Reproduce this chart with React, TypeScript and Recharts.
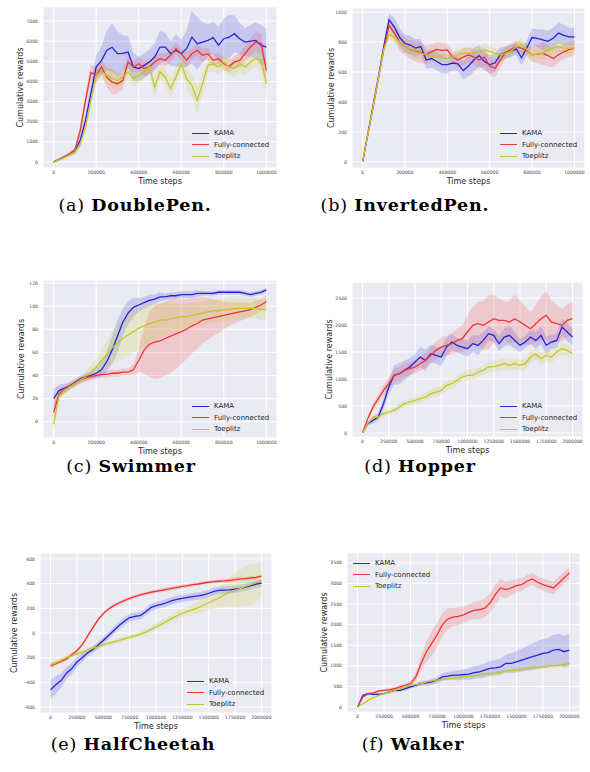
import React from "react";
import { ComposedChart, Line, Area, XAxis, YAxis, CartesianGrid, Legend } from "recharts";

const NAMES = ["KAMA", "Fully-connected", "Toeplitz"];
const COLORS = ["#2525d6", "#f03434", "#c2c62a"];
const BAND_COLORS = ["#3a3ae0", "#f04848", "#c8cc30"];

const STEPS_1M = [
  0, 25000, 50000, 75000, 100000, 125000, 150000, 175000, 200000, 225000, 250000, 275000, 300000, 325000,
  350000, 375000, 400000, 425000, 450000, 475000, 500000, 525000, 550000, 575000, 600000, 625000, 650000,
  675000, 700000, 725000, 750000, 775000, 800000, 825000, 850000, 875000, 900000, 925000, 950000, 975000, 1000000,
];
const STEPS_2M = [
  0, 50000, 100000, 150000, 200000, 250000, 300000, 350000, 400000, 450000, 500000, 550000, 600000, 650000,
  700000, 750000, 800000, 850000, 900000, 950000, 1000000, 1050000, 1100000, 1150000, 1200000, 1250000, 1300000,
  1350000, 1400000, 1450000, 1500000, 1550000, 1600000, 1650000, 1700000, 1750000, 1800000, 1850000, 1900000,
  1950000, 2000000,
];
const TICKS_1M = [0, 200000, 400000, 600000, 800000, 1000000];
const TICKS_2M = [0, 250000, 500000, 750000, 1000000, 1250000, 1500000, 1750000, 2000000];

// (a) DoublePen
const DP_K = [0, 120, 250, 380, 520, 1075, 2070, 3390, 4720, 5050, 5550, 5700, 5380, 5400, 5460, 4720, 4640, 4800, 4970, 5215, 5710, 5710, 5380, 5550, 5380, 5630, 6200, 5880, 5960, 6040, 6175, 5800, 6125, 6200, 6375, 6125, 5960, 6000, 6040, 5800, 5710];
const DP_F = [0, 120, 250, 400, 600, 1570, 3060, 4450, 4300, 4720, 4200, 3970, 3890, 4050, 4970, 4720, 4880, 4640, 4720, 4970, 5130, 5050, 5300, 5630, 5380, 5050, 5380, 5550, 5300, 5380, 5050, 5130, 4880, 4750, 4970, 5050, 5380, 5710, 5960, 5900, 4550];
const DP_T = [0, 100, 220, 350, 500, 900, 1740, 3060, 4300, 4500, 4300, 4140, 4050, 4220, 4470, 4140, 4300, 4470, 4720, 3720, 4470, 4220, 3640, 4220, 4880, 4140, 3810, 3060, 3890, 4800, 4880, 4720, 4970, 4720, 4640, 4880, 4720, 4970, 5130, 5050, 3890];
const DP_K_SD = [50, 60, 80, 100, 150, 300, 400, 500, 600, 700, 1000, 1200, 1100, 900, 800, 700, 600, 600, 600, 700, 800, 700, 600, 800, 700, 900, 1300, 1300, 1000, 800, 800, 900, 1000, 1100, 900, 800, 700, 800, 900, 1000, 900];
const DP_F_SD = [40, 50, 60, 80, 120, 250, 350, 400, 400, 350, 500, 600, 500, 400, 350, 300, 350, 400, 350, 300, 300, 300, 350, 300, 300, 350, 300, 300, 350, 300, 300, 300, 300, 300, 300, 350, 400, 450, 500, 500, 600];
const DP_T_SD = [40, 50, 60, 80, 100, 200, 300, 400, 400, 350, 400, 400, 350, 400, 400, 400, 400, 350, 350, 500, 400, 400, 500, 500, 400, 500, 600, 700, 500, 400, 350, 400, 400, 400, 400, 400, 400, 400, 400, 500, 700];

// (b) InvertedPen
const IP_K = [0, 190, 380, 570, 770, 950, 900, 830, 790, 780, 760, 770, 680, 690, 670, 650, 650, 660, 655, 610, 640, 680, 710, 670, 650, 660, 715, 730, 740, 755, 695, 760, 830, 825, 815, 805, 825, 860, 845, 835, 835];
const IP_F = [0, 185, 370, 560, 750, 910, 860, 800, 770, 750, 740, 730, 715, 735, 750, 745, 748, 700, 680, 700, 715, 700, 680, 700, 640, 625, 680, 730, 750, 770, 760, 745, 715, 720, 725, 710, 690, 715, 735, 750, 760];
const IP_T = [0, 185, 370, 560, 750, 850, 830, 800, 770, 750, 735, 725, 715, 705, 700, 695, 690, 700, 715, 725, 725, 730, 737, 748, 737, 725, 714, 725, 737, 770, 780, 750, 715, 720, 725, 748, 760, 770, 760, 760, 760];
const IP_K_SD = [0, 10, 15, 20, 25, 40, 60, 60, 60, 60, 60, 50, 60, 60, 60, 60, 60, 50, 50, 60, 70, 80, 70, 60, 60, 60, 50, 40, 40, 40, 50, 50, 60, 60, 70, 70, 70, 70, 70, 60, 60];
const IP_F_SD = [0, 10, 15, 20, 25, 40, 50, 60, 60, 60, 70, 70, 60, 50, 50, 50, 40, 40, 50, 60, 50, 50, 60, 60, 60, 60, 50, 40, 40, 40, 40, 40, 50, 60, 80, 70, 60, 50, 50, 50, 50];
const IP_T_SD = [0, 10, 15, 20, 25, 30, 35, 40, 40, 40, 40, 40, 40, 35, 35, 35, 35, 35, 35, 35, 35, 35, 35, 35, 35, 35, 35, 35, 35, 35, 40, 40, 40, 40, 40, 40, 40, 40, 40, 40, 40];

// (c) Swimmer
const SW_K = [20, 27, 29, 31, 34, 37, 39, 40, 42, 45, 52, 62, 74, 86, 94, 99, 101, 103, 105, 106, 108, 108, 109, 109, 110, 110, 110, 111, 111, 111, 111, 112, 112, 112, 112, 112, 111, 110, 111, 112, 114];
const SW_F = [8, 24, 28, 31, 33, 36, 38, 39, 40, 41, 41, 42, 42, 43, 43, 45, 53, 62, 67, 69, 70, 72, 74, 76, 78, 80, 83, 85, 88, 89, 90, 91, 92, 93, 94, 95, 96, 97, 99, 101, 104];
const SW_T = [-2, 22, 27, 30, 33, 36, 39, 43, 47, 53, 58, 64, 68, 72, 75, 78, 81, 83, 85, 86, 88, 88, 89, 90, 91, 91, 92, 93, 94, 95, 96, 96, 97, 97, 98, 98, 98, 98, 98, 97, 97];
const SW_K_SD = [8, 5, 4, 3, 3, 3, 3, 3, 4, 6, 9, 12, 14, 12, 10, 8, 6, 5, 5, 4, 4, 3, 3, 3, 3, 3, 3, 3, 2, 2, 2, 2, 2, 2, 2, 2, 2, 2, 2, 2, 2];
const SW_F_SD = [6, 4, 3, 3, 3, 3, 3, 3, 3, 3, 3, 3, 3, 3, 3, 5, 10, 20, 28, 32, 32, 32, 32, 30, 28, 26, 24, 22, 20, 18, 16, 14, 12, 10, 9, 8, 7, 6, 6, 5, 5];
const SW_T_SD = [6, 4, 3, 3, 3, 3, 4, 6, 8, 10, 12, 14, 16, 17, 18, 18, 18, 18, 17, 16, 15, 14, 13, 12, 12, 11, 11, 10, 10, 10, 10, 10, 10, 10, 9, 9, 9, 9, 9, 9, 9];

// (d) Hopper
const HP_K = [0, 173, 234, 296, 543, 852, 1067, 1098, 1160, 1222, 1314, 1407, 1345, 1468, 1438, 1407, 1592, 1684, 1622, 1592, 1561, 1653, 1622, 1715, 1839, 1808, 1653, 1777, 1808, 1715, 1622, 1684, 1777, 1715, 1808, 1622, 1684, 1715, 1962, 1870, 1777];
const HP_F = [0, 265, 481, 636, 790, 913, 1067, 1098, 1160, 1191, 1222, 1283, 1345, 1438, 1530, 1592, 1622, 1653, 1715, 1746, 1870, 1993, 2024, 1993, 2055, 2116, 2085, 2085, 2055, 2116, 2055, 1993, 1931, 2024, 2116, 2178, 2055, 2024, 1993, 2085, 2116];
const HP_T = [0, 173, 296, 296, 358, 389, 420, 481, 543, 574, 605, 636, 666, 728, 759, 790, 882, 913, 975, 1037, 1067, 1067, 1129, 1160, 1222, 1234, 1253, 1283, 1253, 1283, 1253, 1283, 1407, 1468, 1376, 1438, 1407, 1500, 1561, 1530, 1468];
const HP_K_SD = [0, 30, 60, 80, 110, 140, 180, 200, 180, 160, 150, 180, 200, 160, 150, 170, 160, 150, 130, 140, 150, 160, 180, 150, 130, 120, 140, 160, 180, 150, 120, 110, 130, 150, 170, 160, 140, 130, 150, 170, 160];
const HP_F_SD = [0, 40, 60, 80, 100, 110, 120, 130, 130, 120, 120, 130, 140, 150, 160, 170, 180, 200, 220, 250, 300, 350, 400, 450, 500, 450, 400, 350, 400, 450, 400, 350, 300, 350, 400, 450, 400, 350, 300, 300, 300];
const HP_T_SD = [0, 30, 40, 50, 50, 50, 50, 60, 60, 60, 70, 70, 70, 70, 80, 80, 80, 80, 80, 80, 90, 90, 90, 90, 100, 100, 100, 100, 100, 100, 100, 110, 110, 110, 110, 110, 110, 110, 110, 110, 110];

// (e) HalfCheetah
const HC_K = [-460, -420, -385, -325, -290, -235, -200, -162, -135, -100, -60, -20, 20, 60, 95, 125, 135, 140, 170, 205, 222, 232, 245, 262, 272, 280, 288, 294, 300, 308, 322, 338, 345, 348, 350, 355, 362, 372, 384, 395, 405];
const HC_F = [-265, -249, -230, -211, -176, -143, -95, -27, 41, 108, 157, 195, 222, 243, 262, 281, 295, 308, 319, 330, 338, 346, 354, 362, 370, 378, 384, 392, 397, 405, 411, 416, 419, 422, 427, 432, 438, 440, 446, 451, 460];
const HC_T = [-257, -240, -222, -200, -185, -170, -155, -140, -125, -110, -97, -85, -72, -60, -48, -36, -24, -10, 5, 30, 50, 70, 95, 118, 140, 160, 175, 190, 205, 225, 245, 265, 285, 310, 330, 345, 362, 378, 392, 410, 430];
const HC_K_SD = [80, 70, 60, 50, 45, 40, 35, 30, 30, 30, 30, 30, 30, 30, 30, 30, 30, 30, 30, 30, 30, 30, 30, 30, 30, 30, 30, 30, 30, 30, 30, 30, 30, 30, 30, 30, 30, 30, 30, 30, 30];
const HC_F_SD = [20, 18, 16, 15, 15, 15, 15, 15, 15, 15, 15, 15, 15, 15, 15, 15, 15, 15, 15, 15, 15, 15, 15, 15, 15, 15, 15, 15, 15, 15, 15, 15, 15, 15, 15, 15, 15, 15, 15, 15, 15];
const HC_T_SD = [20, 20, 20, 20, 20, 20, 20, 20, 20, 20, 20, 20, 20, 20, 20, 20, 20, 20, 25, 25, 25, 30, 30, 30, 35, 35, 40, 40, 45, 50, 60, 70, 80, 100, 120, 140, 150, 160, 170, 150, 140];

// (f) Walker
const WK_K = [0, 285, 326, 310, 310, 326, 366, 407, 407, 448, 488, 529, 570, 586, 610, 651, 733, 749, 773, 773, 790, 798, 838, 855, 895, 936, 952, 977, 1058, 1058, 1099, 1140, 1180, 1221, 1262, 1302, 1319, 1384, 1400, 1343, 1384];
const WK_F = [0, 244, 326, 342, 391, 407, 423, 448, 488, 529, 570, 733, 1058, 1343, 1547, 1750, 1994, 2133, 2182, 2198, 2238, 2295, 2344, 2361, 2401, 2523, 2727, 2890, 2849, 2890, 2947, 2971, 3053, 3109, 3028, 2971, 2930, 2890, 3012, 3134, 3256];
const WK_T = [0, 81, 163, 228, 285, 326, 366, 407, 448, 488, 529, 545, 570, 610, 635, 651, 667, 684, 700, 716, 733, 749, 765, 781, 798, 814, 830, 847, 871, 887, 904, 920, 936, 952, 969, 977, 993, 1001, 1010, 1026, 1058];
const WK_K_SD = [0, 20, 30, 30, 30, 30, 40, 40, 40, 50, 50, 50, 60, 60, 70, 80, 90, 100, 110, 120, 130, 140, 150, 160, 170, 180, 190, 200, 220, 240, 260, 280, 300, 320, 340, 350, 360, 370, 380, 390, 400];
const WK_F_SD = [0, 20, 30, 30, 30, 30, 40, 40, 50, 50, 60, 100, 180, 250, 300, 300, 280, 250, 230, 220, 200, 200, 210, 220, 230, 240, 250, 220, 200, 180, 160, 150, 150, 150, 150, 150, 150, 150, 150, 150, 150];
const WK_T_SD = [0, 20, 20, 20, 20, 20, 25, 25, 25, 25, 30, 30, 30, 30, 30, 30, 35, 35, 35, 35, 35, 40, 40, 40, 40, 40, 40, 45, 45, 45, 45, 45, 50, 50, 50, 50, 50, 50, 55, 55, 55];

const PANELS = [
  {
    id: "a", caption: "DoublePen.", capX: 135, capY: 205,
    plot: { x: 43, y: 7, w: 234, h: 161 }, steps: STEPS_1M, xTicks: TICKS_1M, xDomain: [-50000, 1050000],
    yTicks: [0, 1000, 2000, 3000, 4000, 5000, 6000, 7000], yDomain: [-300, 7700], yLabelX: 20,
    legend: { x: 192, y: 133 }, series: [DP_K, DP_F, DP_T], spreads: [DP_K_SD, DP_F_SD, DP_T_SD],
  },
  {
    id: "b", caption: "InvertedPen.", capX: 405, capY: 205,
    plot: { x: 352, y: 8, w: 233, h: 160 }, steps: STEPS_1M, xTicks: TICKS_1M, xDomain: [-50000, 1050000],
    yTicks: [0, 200, 400, 600, 800, 1000], yDomain: [-40, 1027], yLabelX: 331,
    legend: { x: 500, y: 133 }, series: [IP_K, IP_F, IP_T], spreads: [IP_K_SD, IP_F_SD, IP_T_SD],
  },
  {
    id: "c", caption: "Swimmer", capX: 131, capY: 466,
    plot: { x: 43, y: 280, w: 234, h: 158 }, steps: STEPS_1M, xTicks: TICKS_1M, xDomain: [-50000, 1050000],
    yTicks: [0, 20, 40, 60, 80, 100, 120], yDomain: [-14, 122.6], yLabelX: 21,
    legend: { x: 192, y: 406 }, series: [SW_K, SW_F, SW_T], spreads: [SW_K_SD, SW_F_SD, SW_T_SD],
  },
  {
    id: "d", caption: "Hopper", capX: 420, capY: 466,
    plot: { x: 352, y: 282, w: 231, h: 155 }, steps: STEPS_2M, xTicks: TICKS_2M, xDomain: [-100000, 2100000],
    yTicks: [0, 500, 1000, 1500, 2000, 2500], yDomain: [-74, 2796], yLabelX: 329,
    legend: { x: 500, y: 406 }, series: [HP_K, HP_F, HP_T], spreads: [HP_K_SD, HP_F_SD, HP_T_SD],
  },
  {
    id: "e", caption: "HalfCheetah", capX: 133, capY: 744,
    plot: { x: 40, y: 553, w: 232, h: 160 }, steps: STEPS_2M, xTicks: TICKS_2M, xDomain: [-100000, 2100000],
    yTicks: [-600, -400, -200, 0, 200, 400, 600], yDomain: [-648, 648], yLabelX: 14,
    legend: { x: 187, y: 681 }, series: [HC_K, HC_F, HC_T], spreads: [HC_K_SD, HC_F_SD, HC_T_SD],
  },
  {
    id: "f", caption: "Walker", capX: 413, capY: 744,
    plot: { x: 347, y: 553, w: 233, h: 159 }, steps: STEPS_2M, xTicks: TICKS_2M, xDomain: [-100000, 2100000],
    yTicks: [0, 500, 1000, 1500, 2000, 2500, 3000, 3500], yDomain: [-120, 3738], yLabelX: 324,
    legend: { x: 353, y: 563 }, series: [WK_K, WK_F, WK_T], spreads: [WK_K_SD, WK_F_SD, WK_T_SD],
  },
];

const YW = 50;
const MT = 10;
const MR = 10;
const XH = 30;
const KEYS = ["k", "f", "t"];

function LegendBox() {
  return (
    <div style={{ fontFamily: "DejaVu Sans", fontSize: 7, color: "#262626" }}>
      {NAMES.map((n, i) => (
        <div key={n} style={{ display: "flex", alignItems: "center", height: 11.5, whiteSpace: "nowrap" }}>
          <span style={{ display: "inline-block", width: 17, borderTop: `1.6px solid ${COLORS[i]}`, marginRight: 5 }} />
          <span>{n}</span>
        </div>
      ))}
    </div>
  );
}

function Panel({ cfg }: { cfg: any }) {
  const { plot, steps, series, spreads } = cfg;
  const left = plot.x - YW;
  const top = plot.y - MT;
  const rows = steps.map((s: number, i: number) => {
    const row: any = { x: s };
    KEYS.forEach((key, j) => {
      row[key] = series[j][i];
      row[key + "b"] = [series[j][i] - spreads[j][i], series[j][i] + spreads[j][i]];
    });
    return row;
  });
  const tick = { fontSize: 4.6, fill: "#4a4a4a", fontFamily: "DejaVu Sans" };
  const midY = MT + plot.h / 2;
  const lx = cfg.yLabelX - left;

  return (
    <div style={{ position: "absolute", left, top }}>
      <ComposedChart
        width={YW + plot.w + MR}
        height={MT + plot.h + XH}
        data={rows}
        margin={{ top: MT, right: MR, bottom: 0, left: 0 }}
        style={{ fontFamily: "DejaVu Sans" }}
      >
        <CartesianGrid fill="#eaeaf2" stroke="#ffffff" strokeWidth={1} />
        <XAxis
          dataKey="x"
          type="number"
          domain={cfg.xDomain}
          ticks={cfg.xTicks}
          interval={0}
          allowDataOverflow
          height={XH}
          tickSize={0}
          tickMargin={3}
          axisLine={false}
          tick={tick}
          tickFormatter={(v: number) => String(v)}
          label={() => (
            <text x={YW + plot.w / 2} y={MT + plot.h + 16} textAnchor="middle" fontSize={8} fill="#262626">
              Time steps
            </text>
          )}
        />
        <YAxis
          type="number"
          domain={cfg.yDomain}
          ticks={cfg.yTicks}
          interval={0}
          allowDataOverflow
          width={YW}
          tickSize={0}
          tickMargin={5}
          axisLine={false}
          tick={tick}
          tickFormatter={(v: number) => String(v)}
          label={() => (
            <text
              x={lx}
              y={midY}
              transform={`rotate(-90 ${lx} ${midY})`}
              textAnchor="middle"
              dominantBaseline="central"
              fontSize={8}
              fill="#262626"
            >
              Cumulative rewards
            </text>
          )}
        />
        {KEYS.map((key, j) => (
          <Area
            key={key + "b"}
            dataKey={key + "b"}
            type="linear"
            stroke="none"
            fill={BAND_COLORS[j]}
            fillOpacity={0.2}
            isAnimationActive={false}
            legendType="none"
          />
        ))}
        {KEYS.map((key, j) => (
          <Line
            key={key}
            dataKey={key}
            name={NAMES[j]}
            type="linear"
            stroke={COLORS[j]}
            strokeWidth={1.3}
            dot={false}
            isAnimationActive={false}
          />
        ))}
        <Legend
          layout="vertical"
          align="center"
          verticalAlign="middle"
          content={LegendBox}
          wrapperStyle={{ left: cfg.legend.x - left, top: cfg.legend.y - 5.75 - top, width: "auto" }}
        />
      </ComposedChart>
    </div>
  );
}

export default function App() {
  return (
    <div style={{ position: "absolute", left: 0, top: 0, width: 590, height: 772, background: "#ffffff", overflow: "hidden" }}>
      {PANELS.map((p) => (
        <Panel key={p.id} cfg={p} />
      ))}
      {PANELS.map((p) => (
        <div
          key={"cap" + p.id}
          style={{
            position: "absolute",
            left: p.capX - 150,
            top: p.capY - 9,
            width: 300,
            textAlign: "center",
            fontFamily: "DejaVu Serif",
            fontSize: 17.5,
            letterSpacing: 0.8,
            lineHeight: "18px",
            color: "#000",
          }}
        >
          ({p.id}) <b>{p.caption}</b>
        </div>
      ))}
    </div>
  );
}
